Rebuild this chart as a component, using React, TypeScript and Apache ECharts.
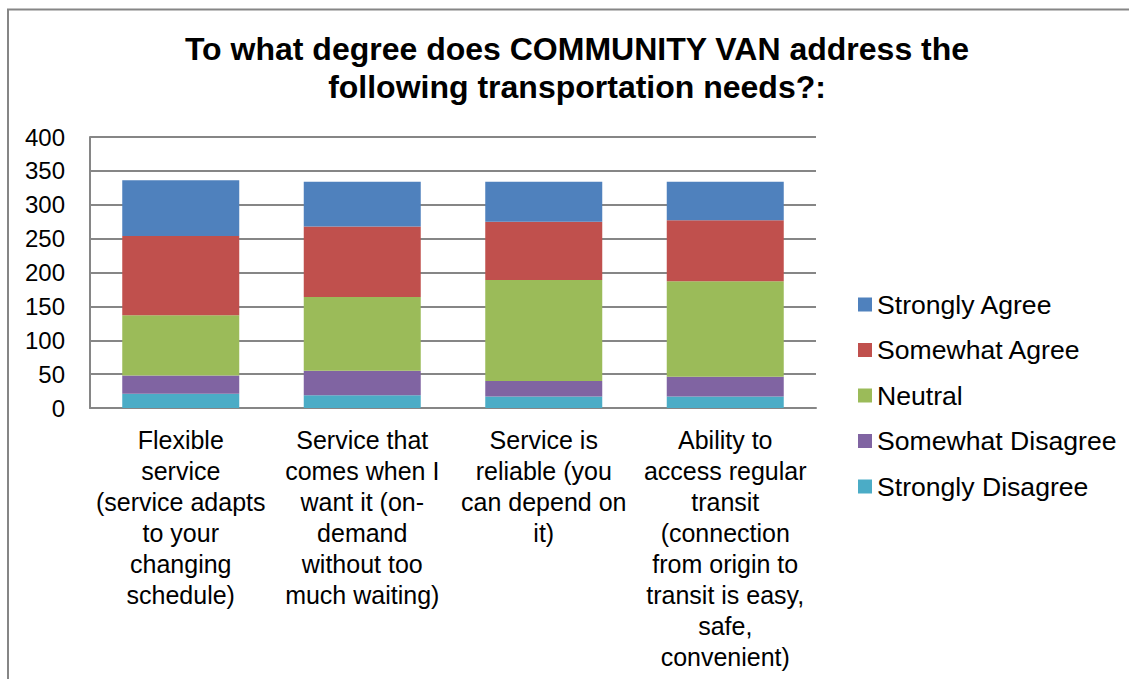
import React, { useEffect, useRef } from "react";
import * as echarts from "echarts";

const categories = [
  "Flexible\nservice\n(service adapts\nto your\nchanging\nschedule)",
  "Service that\ncomes when I\nwant it (on-\ndemand\nwithout too\nmuch waiting)",
  "Service is\nreliable (you\ncan depend on\nit)",
  "Ability to\naccess regular\ntransit\n(connection\nfrom origin to\ntransit is easy,\nsafe,\nconvenient)",
];

const stronglyDisagree = [21, 19, 17, 17];
const somewhatDisagree = [27, 36, 23, 29];
const neutral = [89, 109, 149, 141];
const somewhatAgree = [117, 104, 86, 90];
const stronglyAgree = [82, 66, 59, 57];

const seriesNames = [
  "Strongly Disagree",
  "Somewhat Disagree",
  "Neutral",
  "Somewhat Agree",
  "Strongly Agree",
];
const seriesValues = [stronglyDisagree, somewhatDisagree, neutral, somewhatAgree, stronglyAgree];
const seriesColors = ["#4BACC6", "#8064A2", "#9BBB59", "#C0504D", "#4F81BD"];
const legendOrder = [
  "Strongly Agree",
  "Somewhat Agree",
  "Neutral",
  "Somewhat Disagree",
  "Strongly Disagree",
];

const FONT = "Liberation Sans, Arial, sans-serif";

export default function App() {
  const ref = useRef<HTMLDivElement>(null);

  useEffect(() => {
    document.body.style.margin = "0";
    if (!ref.current) return;
    const chart = echarts.init(ref.current, undefined, { renderer: "svg" });
    chart.setOption({
      animation: false,
      backgroundColor: "#ffffff",
      title: {
        text: "To what degree does COMMUNITY VAN address the\nfollowing transportation needs?:",
        left: 577,
        top: 30,
        textAlign: "center",
        padding: 0,
        textStyle: {
          fontFamily: FONT,
          fontSize: 32,
          fontWeight: "bold",
          lineHeight: 38,
          color: "#000",
        },
      },
      graphic: [
        {
          type: "rect",
          shape: { x: 8, y: 9.5, width: 1300, height: 900 },
          style: { fill: "none", stroke: "#868686", lineWidth: 2 },
          silent: true,
        },
      ],
      legend: {
        orient: "vertical",
        left: 858,
        top: 291,
        padding: 0,
        itemWidth: 14,
        itemHeight: 14,
        itemGap: 18.5,
        icon: "rect",
        data: legendOrder,
        textStyle: {
          fontFamily: FONT,
          fontSize: 26.6,
          lineHeight: 26,
          color: "#000",
          padding: [0, 0, 0, 0],
        },
      },
      grid: { left: 90, top: 137, width: 726, height: 271, containLabel: false },
      xAxis: {
        type: "category",
        data: categories,
        axisLine: { show: true, lineStyle: { color: "#868686", width: 2 } },
        axisTick: { show: false },
        axisLabel: {
          interval: 0,
          margin: 16,
          fontFamily: FONT,
          fontSize: 25,
          lineHeight: 31,
          color: "#000",
          align: "center",
        },
      },
      yAxis: {
        type: "value",
        min: 0,
        max: 400,
        interval: 50,
        axisLine: { show: true, lineStyle: { color: "#868686", width: 2 } },
        axisTick: { show: false },
        splitLine: { show: true, lineStyle: { color: "#868686", width: 2 } },
        axisLabel: {
          margin: 25,
          fontFamily: FONT,
          fontSize: 24,
          color: "#000",
        },
      },
      series: seriesNames.map((name, i) => ({
        name,
        type: "bar",
        stack: "total",
        data: seriesValues[i],
        barWidth: 117,
        itemStyle: { color: seriesColors[i] },
      })),
    });
    return () => chart.dispose();
  }, []);

  return <div ref={ref} style={{ width: 1129, height: 679 }} />;
}
